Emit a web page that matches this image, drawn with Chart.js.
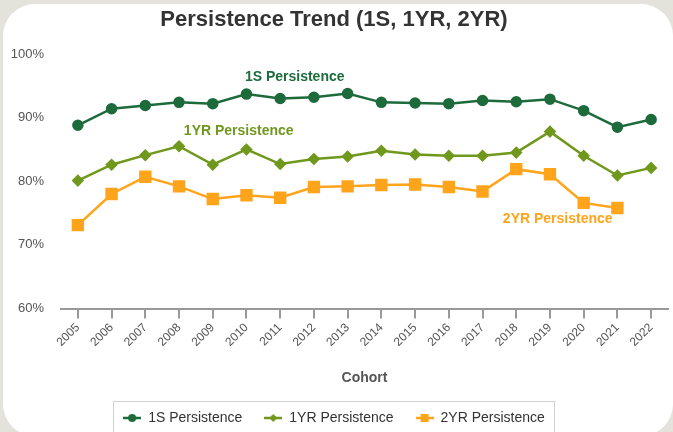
<!DOCTYPE html>
<html>
<head>
<meta charset="utf-8">
<title>Persistence Trend</title>
<script src="https://cdn.jsdelivr.net/npm/chart.js@4.4.0/dist/chart.umd.min.js"></script>
<style>
    html, body { margin: 0; padding: 0; }
    body { width: 673px; height: 432px; background: #e3e3dc; position: relative; overflow: hidden; }
    #card { position: absolute; left: 3px; top: 4px; width: 670px; height: 432px; background: #fff; border-radius: 32px; }
    #myChart { position: absolute; left: 0; top: 0; }
</style>
</head>
<body>
<div id="card"></div>
<canvas id="myChart" width="673" height="432"></canvas>
<script>
'use strict';
const cohorts = ['2005', '2006', '2007', '2008', '2009', '2010', '2011', '2012', '2013',
    '2014', '2015', '2016', '2017', '2018', '2019', '2020', '2021', '2022'];
const oneSem = [88.8, 91.4, 91.9, 92.4, 92.2, 93.7, 93.0, 93.2, 93.8,
    92.4, 92.3, 92.2, 92.7, 92.5, 92.9, 91.1, 88.5, 89.7];
const oneYear = [80.1, 82.6, 84.1, 85.5, 82.6, 85.0, 82.7, 83.5, 83.9,
    84.8, 84.2, 84.0, 84.0, 84.5, 87.8, 84.0, 80.9, 82.1];
const twoYear = [73.1, 78.0, 80.7, 79.2, 77.2, 77.8, 77.4, 79.1, 79.2,
    79.4, 79.5, 79.1, 78.4, 81.9, 81.1, 76.6, 75.8, null];
const seriesNames = ['1S Persistence', '1YR Persistence', '2YR Persistence'];
const yTicks = [60, 70, 80, 90, 100];

const green = '#1d6b3b';
const olive = '#6f981d';
const orange = '#ffa41b';

Chart.defaults.font.family = "'Liberation Sans', Arial, sans-serif";

// little line + marker pictures for the legend
function legendIcon(color, shape) {
    const c = document.createElement('canvas');
    c.width = 18;
    c.height = 12;
    const ctx = c.getContext('2d');
    ctx.strokeStyle = color;
    ctx.fillStyle = color;
    ctx.lineWidth = 2.5;
    ctx.beginPath();
    ctx.moveTo(0, 6);
    ctx.lineTo(18, 6);
    ctx.stroke();
    ctx.beginPath();
    if (shape === 'circle') {
        ctx.arc(9, 6, 4, 0, Math.PI * 2);
    } else if (shape === 'diamond') {
        ctx.moveTo(9, 2);
        ctx.lineTo(13, 6);
        ctx.lineTo(9, 10);
        ctx.lineTo(5, 6);
        ctx.closePath();
    } else {
        ctx.rect(5, 2, 8, 8);
    }
    ctx.fill();
    return c;
}
const icons = [legendIcon(green, 'circle'), legendIcon(olive, 'diamond'), legendIcon(orange, 'square')];

// series names written next to the lines
const lineLabels = {
    id: 'lineLabels',
    afterDatasetsDraw(chart, args, opts) {
        const ctx = chart.ctx;
        const x = chart.scales.x;
        const y = chart.scales.y;
        ctx.save();
        ctx.font = "bold 14px 'Liberation Sans', Arial, sans-serif";
        ctx.textAlign = 'center';
        ctx.textBaseline = 'middle';
        for (let i = 0; i < opts.items.length; i++) {
            const it = opts.items[i];
            ctx.fillStyle = it.color;
            ctx.fillText(it.text, x.getPixelForValue(it.at), y.getPixelForValue(it.value));
        }
        ctx.restore();
    }
};

// thin frame round the legend
const legendFrame = {
    id: 'legendFrame',
    afterDraw(chart) {
        const boxes = chart.legend.legendHitBoxes;
        if (!boxes || !boxes.length) return;
        const first = boxes[0];
        const last = boxes[boxes.length - 1];
        const ctx = chart.ctx;
        ctx.save();
        ctx.strokeStyle = '#d2d2d2';
        ctx.lineWidth = 1;
        const left = Math.round(first.left - 10) + 0.5;
        const right = Math.round(last.left + last.width + 9) + 0.5;
        const top = Math.round(first.top - 10) + 0.5;
        ctx.strokeRect(left, top, right - left, 60);
        ctx.restore();
    }
};

let context = document.getElementById('myChart').getContext('2d');
let chart = new Chart(context, {
    type: 'line',
    data: {
        labels: cohorts,
        datasets: [{
            label: seriesNames[0],
            data: oneSem,
            borderColor: green,
            backgroundColor: green,
            borderWidth: 2.5,
            pointStyle: 'circle',
            pointRadius: 4.5,
            pointHoverRadius: 4.5
        }, {
            label: seriesNames[1],
            data: oneYear,
            borderColor: olive,
            backgroundColor: olive,
            borderWidth: 2.5,
            pointStyle: 'rectRot',
            pointRadius: 4.5,
            pointHoverRadius: 4.5
        }, {
            label: seriesNames[2],
            data: twoYear,
            borderColor: orange,
            backgroundColor: orange,
            borderWidth: 2.5,
            pointStyle: 'rect',
            pointRadius: 7,
            pointHoverRadius: 7
        }]
    },
    options: {
        responsive: false,
        animation: false,
        devicePixelRatio: 1,
        layout: { autoPadding: false, padding: { top: 7, right: 5, bottom: 0, left: 0 } },
        scales: {
            x: {
                offset: true,
                grid: { display: true, drawOnChartArea: false, drawTicks: true, tickLength: 10, color: '#999', lineWidth: 2 },
                border: { display: true, color: '#999', width: 2 },
                ticks: { color: '#555', font: { size: 12 }, minRotation: 45, maxRotation: 45, padding: 2 },
                title: { display: true, text: 'Cohort', color: '#555', font: { size: 14, weight: 'bold' }, padding: { top: 0, bottom: 2 } },
                afterFit(scale) {
                    scale.height = 80.5;
                    scale.paddingLeft = 0;
                    scale.paddingRight = 0;
                }
            },
            y: {
                min: 60,
                max: 100,
                afterBuildTicks(scale) { scale.ticks = yTicks.map(v => ({ value: v })); },
                grid: { display: false },
                border: { display: false },
                ticks: { color: '#555', font: { size: 13 }, padding: 9, callback: v => v + '%' },
                afterFit(scale) { scale.width = 61; }
            }
        },
        plugins: {
            title: {
                display: true,
                text: 'Persistence Trend (1S, 1YR, 2YR)',
                color: '#333',
                font: { size: 22, weight: 'bold' },
                padding: { top: 0, bottom: 20.6 }
            },
            legend: {
                position: 'bottom',
                maxHeight: 43,
                labels: {
                    usePointStyle: true,
                    pointStyleWidth: 18,
                    padding: 22,
                    color: '#333',
                    font: { size: 14 },
                    generateLabels(chart) {
                        const items = Chart.defaults.plugins.legend.labels.generateLabels(chart);
                        items.forEach((it, i) => { it.pointStyle = icons[i]; });
                        return items;
                    }
                }
            },
            tooltip: { enabled: false },
            lineLabels: {
                items: [
                    { text: seriesNames[0], color: green, at: 6.43, value: 96.4 },
                    { text: seriesNames[1], color: olive, at: 4.77, value: 87.9 },
                    { text: seriesNames[2], color: orange, at: 14.23, value: 74.0 }
                ]
            }
        }
    },
    plugins: [lineLabels, legendFrame]
});
</script>
</body>
</html>
